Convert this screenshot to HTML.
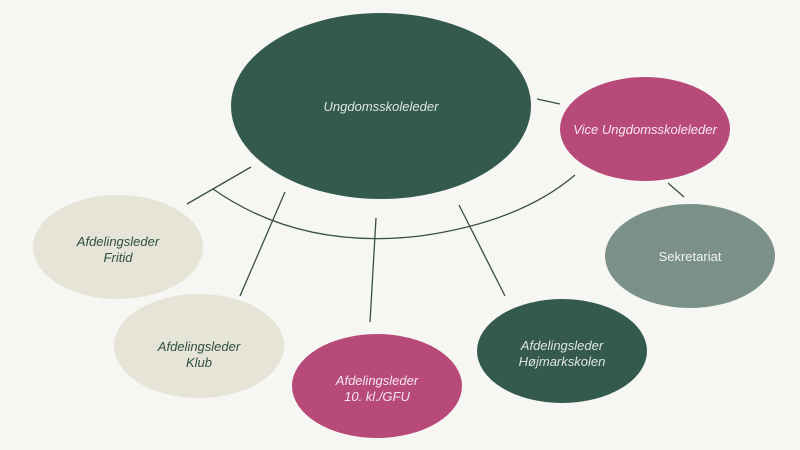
<!DOCTYPE html>
<html><head><meta charset="utf-8"><style>
html,body{margin:0;padding:0;background:#f6f6f2;}
svg{display:block;}
text{font-family:"Liberation Sans",sans-serif;font-style:italic;font-size:13px;}
</style></head><body>
<svg width="800" height="450" viewBox="0 0 800 450" xmlns="http://www.w3.org/2000/svg">
<rect width="800" height="450" fill="#f6f6f2"/>
<g stroke="#3a4e48" stroke-width="1.3" fill="none">
<line x1="187" y1="204" x2="251" y2="167"/>
<path d="M213,189 Q300,250 420,236 Q520,222 575,175"/>
<line x1="285" y1="192" x2="240" y2="296"/>
<line x1="376" y1="218" x2="370" y2="322"/>
<line x1="459" y1="205" x2="505" y2="296"/>
<line x1="537" y1="99" x2="560" y2="104"/>
<line x1="668" y1="183" x2="684" y2="197"/>
</g>
<ellipse cx="381" cy="106" rx="150" ry="93" fill="#345a50"/>
<ellipse cx="645" cy="129" rx="85" ry="52" fill="#b84a7a"/>
<ellipse cx="690" cy="256" rx="85" ry="52" fill="#7a9088"/>
<ellipse cx="118" cy="247" rx="85" ry="52" fill="#e6e3d7"/>
<ellipse cx="199" cy="346" rx="85" ry="52" fill="#e6e3d7"/>
<ellipse cx="377" cy="386" rx="85" ry="52" fill="#b84a7a"/>
<ellipse cx="562" cy="351" rx="85" ry="52" fill="#345a50"/>
<g text-anchor="middle">
<text x="381" y="111" fill="#dfe5e2">Ungdomsskoleleder</text>
<text x="645" y="134" fill="#f5e6ee">Vice Ungdomsskoleleder</text>
<text x="690" y="261" fill="#f2f4f3" style="font-style:normal">Sekretariat</text>
<text x="118" y="246" fill="#2f4f45">Afdelingsleder</text>
<text x="118" y="262" fill="#2f4f45">Fritid</text>
<text x="199" y="351" fill="#2f4f45">Afdelingsleder</text>
<text x="199" y="367" fill="#2f4f45">Klub</text>
<text x="377" y="385" fill="#f5e6ee">Afdelingsleder</text>
<text x="377" y="401" fill="#f5e6ee">10. kl./GFU</text>
<text x="562" y="350" fill="#dfe5e2">Afdelingsleder</text>
<text x="562" y="366" fill="#dfe5e2">Højmarkskolen</text>
</g>
</svg>
</body></html>
